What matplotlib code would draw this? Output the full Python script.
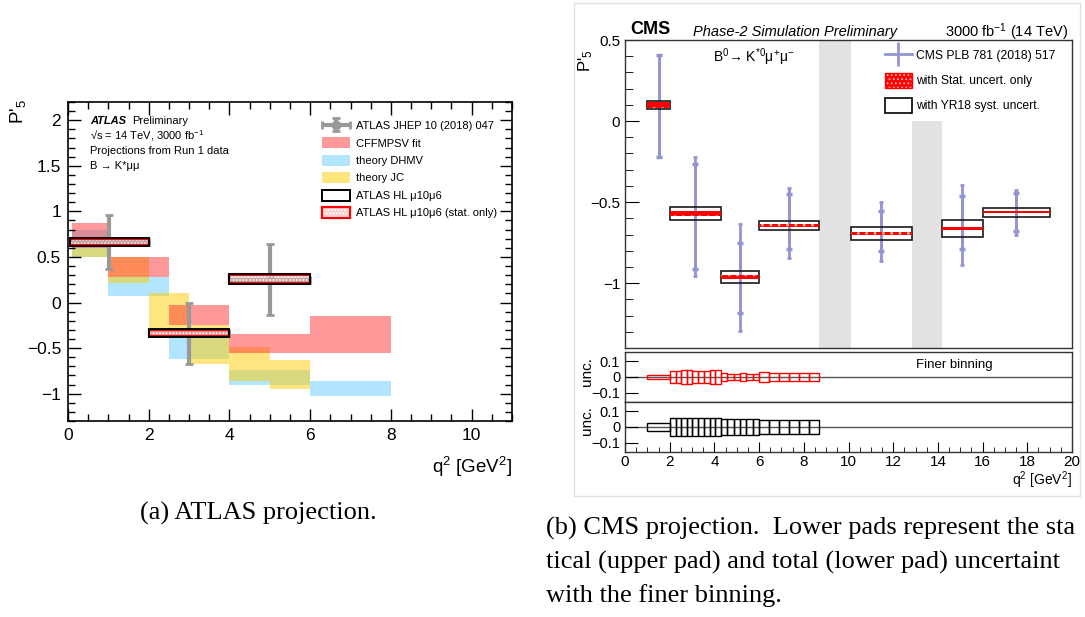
import numpy as np
import matplotlib
matplotlib.use("Agg")
import matplotlib.pyplot as plt
from matplotlib.patches import Patch, Rectangle
from matplotlib.lines import Line2D
from matplotlib.container import ErrorbarContainer
from matplotlib.legend_handler import HandlerTuple, HandlerErrorbar
from matplotlib.ticker import MultipleLocator

plt.rcParams['font.family'] = ['Liberation Sans', 'DejaVu Sans']
plt.rcParams['mathtext.fontset'] = 'custom'
plt.rcParams['mathtext.rm'] = 'Liberation Sans'
plt.rcParams['mathtext.it'] = 'Liberation Sans:italic'
plt.rcParams['mathtext.bf'] = 'Liberation Sans:bold'
plt.rcParams['mathtext.default'] = 'regular'
plt.rcParams['hatch.linewidth'] = 0.8

# ---------------- ATLAS panel data ----------------
# theory bands: bin edges and lower/upper P'5 values
cff_lo = [0.1, 1.0, 2.5, 4.0, 6.0]
cff_hi = [1.0, 2.5, 4.0, 6.0, 8.0]
cff_ylo = [0.60, 0.28, -0.25, -0.55, -0.55]
cff_yhi = [0.87, 0.50, -0.03, -0.35, -0.15]

dhmv_lo = [0.1, 1.0, 2.5, 4.0, 6.0]
dhmv_hi = [1.0, 2.5, 4.0, 6.0, 8.0]
dhmv_ylo = [0.50, 0.07, -0.62, -0.90, -1.03]
dhmv_yhi = [0.80, 0.28, -0.36, -0.745, -0.865]

jc_lo = [0.1, 1.0, 2.0, 3.0, 4.0, 5.0]
jc_hi = [1.0, 2.0, 3.0, 4.0, 5.0, 6.0]
jc_ylo = [0.50, 0.21, -0.38, -0.68, -0.865, -0.95]
jc_yhi = [0.60, 0.50, 0.10, -0.25, -0.49, -0.63]

# Run 1 measurement
run1_x = [1.02, 3.0, 5.0]
run1_xerr = [0.98, 1.0, 1.0]
run1_y = [0.66, -0.33, 0.25]
run1_up = [0.305, 0.33, 0.39]
run1_dn = [0.295, 0.34, 0.39]

# HL projection
hl_lo = [0.04, 2.0, 4.0]
hl_hi = [2.0, 4.0, 6.0]
hl_val = [0.66, -0.335, 0.255]
hl_tot = [0.045, 0.045, 0.055]
hl_stat = [0.033, 0.033, 0.043]

atlas_yticks = [-1, -0.5, 0, 0.5, 1, 1.5, 2]
atlas_ylabels = ['\u22121', '\u22120.5', '0', '0.5', '1', '1.5', '2']

# ---------------- CMS panel data ----------------
cms_lo = [1.0, 2.0, 4.3, 6.0, 10.09, 14.18, 16.0]
cms_hi = [2.0, 4.3, 6.0, 8.68, 12.86, 16.0, 19.0]
cms_val = [0.10, -0.572, -0.963, -0.644, -0.693, -0.663, -0.562]
cms_tot = [0.025, 0.039, 0.039, 0.028, 0.038, 0.050, 0.028]
cms_stat = [0.018, 0.015, 0.013, 0.010, 0.008, 0.009, 0.008]

# CMS PLB 781 (2018) 517 points
plb_up = [0.307, 0.352, 0.325, 0.228, 0.193, 0.268, 0.134]
plb_dn = [0.322, 0.385, 0.333, 0.200, 0.171, 0.222, 0.142]
plb_stat_up = [0.307, 0.309, 0.208, 0.194, 0.137, 0.200, 0.120]
plb_stat_dn = [0.322, 0.340, 0.220, 0.148, 0.109, 0.129, 0.117]

veto_lo = [8.68, 12.86]
veto_hi = [10.09, 14.18]
veto_top = [0.5, 0.0]

cms_yticks = [-1, -0.5, 0, 0.5]
cms_ylabels = ['\u22121', '\u22120.5', '0', '0.5']
unc_yticks = [-0.1, 0, 0.1]
unc_ylabels = ['\u22120.1', '0', '0.1']

# finer binning uncertainties
fine_edges = [1.0, 2.0, 2.26, 2.51, 2.77, 3.02, 3.28, 3.53, 3.79, 4.04, 4.3,
              4.58, 4.87, 5.15, 5.43, 5.72, 6.0, 6.45, 6.89, 7.34, 7.79, 8.23, 8.68]
fine_stat = [0.013, 0.040, 0.041, 0.043, 0.045, 0.041, 0.038, 0.038, 0.043, 0.043,
             0.024, 0.022, 0.022, 0.024, 0.018, 0.022,
             0.030, 0.026, 0.026, 0.027, 0.026, 0.026]
fine_tot = [0.023, 0.058, 0.058, 0.058, 0.058, 0.058, 0.058, 0.058, 0.058, 0.058,
            0.052, 0.052, 0.052, 0.052, 0.052, 0.052,
            0.042, 0.042, 0.042, 0.042, 0.042, 0.042]

# caption lines as far as they are visible in the page
caption_a = "(a) ATLAS projection."
caption_b = ["(b) CMS projection.  Lower pads represent the sta",
             "tical (upper pad) and total (lower pad) uncertaint",
             "with the finer binning."]

W, H = 1085, 617
fig = plt.figure(figsize=(W / 100, H / 100), dpi=100)


def frac(l, t, r, b):
    return [l / W, 1 - b / H, (r - l) / W, (b - t) / H]


pink = (1.0, 0.2, 0.2)
blue_t = (0.4, 0.8, 1.0)
yell = (1.0, 0.8, 0.0)
grey = '#999999'

# ================= ATLAS =================
ax = fig.add_axes(frac(68, 102, 512, 421))
ax.bar(dhmv_lo, np.subtract(dhmv_yhi, dhmv_ylo), width=np.subtract(dhmv_hi, dhmv_lo),
       bottom=dhmv_ylo, align='edge', color=blue_t, alpha=0.5, lw=0, zorder=1)
ax.bar(jc_lo, np.subtract(jc_yhi, jc_ylo), width=np.subtract(jc_hi, jc_lo),
       bottom=jc_ylo, align='edge', color=yell, alpha=0.5, lw=0, zorder=1)
ax.bar(cff_lo, np.subtract(cff_yhi, cff_ylo), width=np.subtract(cff_hi, cff_lo),
       bottom=cff_ylo, align='edge', color=pink, alpha=0.5, lw=0, zorder=1)

eb = ax.errorbar(run1_x, run1_y, yerr=[run1_dn, run1_up], xerr=run1_xerr, fmt='o',
                 color=grey, ms=6, elinewidth=3, capsize=3, capthick=2, zorder=2)

hl_w = np.subtract(hl_hi, hl_lo)
hl_stat_lo = np.subtract(hl_val, hl_stat)
hl_tot_lo = np.subtract(hl_val, hl_tot)
ax.bar(hl_lo, np.multiply(hl_stat, 2), width=hl_w, bottom=hl_stat_lo, align='edge',
       facecolor=(0.9, 0.7, 0.7, 0.55), edgecolor='white', hatch='.....', lw=0, zorder=3)
ax.bar(hl_lo, np.multiply(hl_stat, 2), width=hl_w, bottom=hl_stat_lo, align='edge',
       fill=False, edgecolor='red', lw=1.6, zorder=4)
ax.bar(hl_lo, np.multiply(hl_tot, 2), width=hl_w, bottom=hl_tot_lo, align='edge',
       fill=False, edgecolor='black', lw=1.4, zorder=5)

ax.set_xlim(0, 11)
ax.set_ylim(-1.3, 2.2)
ax.set_xticks(np.arange(0, 11, 2))
ax.xaxis.set_minor_locator(MultipleLocator(0.5))
ax.set_yticks(atlas_yticks)
ax.set_yticklabels(atlas_ylabels)
ax.yaxis.set_minor_locator(MultipleLocator(0.1))
ax.tick_params(which='both', direction='in', top=True, right=True, labelsize=12.5, pad=5)
ax.tick_params(which='major', length=9, width=1)
ax.tick_params(which='minor', length=5, width=1)
for s in ax.spines.values():
    s.set_linewidth(1.2)

fig.text(18 / W, 1 - 99 / H, "P'$_5$", rotation=90, ha='center', va='top', fontsize=13.5)
fig.text(512 / W, 1 - 467 / H, "q$^2$ [GeV$^2$]", ha='right', va='center', fontsize=13.5)

fig.text(90 / W, 1 - 121 / H, "ATLAS", fontsize=8, fontweight='bold', fontstyle='italic', va='center')
fig.text(132 / W, 1 - 121 / H, "Preliminary", fontsize=8, va='center')
fig.text(90 / W, 1 - 136 / H, "\u221as = 14 TeV, 3000 fb$^{-1}$", fontsize=8, va='center')
fig.text(90 / W, 1 - 151 / H, "Projections from Run 1 data", fontsize=8, va='center')
fig.text(90 / W, 1 - 166 / H, "B \u2192 K*\u03bc\u03bc", fontsize=8, va='center')

h_cff = Patch(facecolor=pink, alpha=0.5, lw=0)
h_dhmv = Patch(facecolor=blue_t, alpha=0.5, lw=0)
h_jc = Patch(facecolor=yell, alpha=0.5, lw=0)
h_hl = Patch(facecolor='white', edgecolor='black', lw=1.4)
h_st = (Patch(facecolor=(0.97, 0.82, 0.82), edgecolor='white', hatch='.....', lw=0),
        Patch(fill=False, edgecolor='red', lw=1.6))
ax.legend([eb, h_cff, h_dhmv, h_jc, h_hl, h_st],
          ['ATLAS JHEP 10 (2018) 047', 'CFFMPSV fit', 'theory DHMV', 'theory JC',
           'ATLAS HL \u03bc10\u03bc6', 'ATLAS HL \u03bc10\u03bc6 (stat. only)'],
          handler_map={tuple: HandlerTuple(ndivide=1, pad=0),
                       ErrorbarContainer: HandlerErrorbar(xerr_size=1.25, yerr_size=0.6)},
          loc='upper left', bbox_to_anchor=(322 / W, 1 - 120 / H), bbox_transform=fig.transFigure,
          frameon=False, fontsize=8, handlelength=2.5, handleheight=1.15, labelspacing=0.55,
          handletextpad=0.6, borderpad=0, borderaxespad=0)

# ================= CMS =================
blue = '#9494d0'
cx = fig.add_axes(frac(625, 40, 1072, 348))
cx.set_xlim(0, 20)
cx.set_ylim(-1.4, 0.5)
cx.bar(veto_lo, np.subtract(veto_top, -1.4), width=np.subtract(veto_hi, veto_lo), bottom=-1.4,
       align='edge', color='#e2e2e2', lw=0, zorder=0)

cms_x = np.add(cms_lo, cms_hi) / 2
cx.errorbar(cms_x, cms_val, yerr=[plb_dn, plb_up], fmt='none', ecolor=blue, elinewidth=2,
            capsize=1.5, capthick=2, zorder=2)
cx.errorbar(cms_x, cms_val, yerr=[plb_stat_dn, plb_stat_up], fmt='none', ecolor=blue,
            elinewidth=2, capsize=2.5, capthick=2.5, zorder=2)

cms_w = np.subtract(cms_hi, cms_lo)
cx.bar(cms_lo, np.multiply(cms_tot, 2), width=cms_w, bottom=np.subtract(cms_val, cms_tot),
       align='edge', fill=False, edgecolor='#1a1a1a', lw=1.2, zorder=3)
cx.bar(cms_lo, np.multiply(cms_stat, 2), width=cms_w, bottom=np.subtract(cms_val, cms_stat),
       align='edge', facecolor='red', edgecolor='#ffb0b0', hatch='..', lw=0, zorder=4)

cx.set_yticks(cms_yticks)
cx.set_yticklabels(cms_ylabels)
cx.yaxis.set_minor_locator(MultipleLocator(0.1))
cx.tick_params(axis='y', which='both', direction='in', left=True, right=False, labelsize=11)
cx.tick_params(axis='y', which='major', length=10)
cx.tick_params(axis='y', which='minor', length=6)
cx.tick_params(axis='x', which='both', bottom=False, labelbottom=False)
for s in cx.spines.values():
    s.set_linewidth(1)
    s.set_color('#333333')

h_plb = Line2D([], [], color=blue, lw=2, marker='|', markersize=17, mew=2)
h_cst = (Patch(facecolor='red', edgecolor='#ffc0c0', hatch='....', lw=0),
         Patch(fill=False, edgecolor='red', lw=1))
h_csy = Patch(facecolor='white', edgecolor='black', lw=1.2)
cx.legend([h_plb, h_cst, h_csy],
          ['CMS PLB 781 (2018) 517', 'with Stat. uncert. only', 'with YR18 syst. uncert.'],
          handler_map={tuple: HandlerTuple(ndivide=1, pad=0)},
          loc='upper left', bbox_to_anchor=(885 / W, 1 - 48 / H), bbox_transform=fig.transFigure,
          frameon=False, fontsize=8.7, handlelength=2.2, handleheight=1.5, labelspacing=0.85,
          handletextpad=0.35, borderpad=0, borderaxespad=0)

fig.text(630 / W, 1 - 30 / H, "CMS", fontsize=13, fontweight='bold', va='center')
fig.text(693 / W, 1 - 32 / H, "Phase-2 Simulation Preliminary", fontsize=10.5,
         fontstyle='italic', va='center')
fig.text(1068 / W, 1 - 32 / H, "3000 fb$^{-1}$ (14 TeV)", fontsize=10.5, ha='right', va='center')
cx.text(713 / W, 1 - 57 / H, "B$^0$\u2192 K$^{*0}$\u03bc$^{+}$\u03bc$^{-}$", fontsize=10,
        va='center', transform=fig.transFigure)
fig.text(586 / W, 1 - 50 / H, "P'$_5$", rotation=90, ha='center', va='top', fontsize=12)

fine_lo = fine_edges[:-1]
fine_w = np.diff(fine_edges)
pads = [(352, 402, fine_stat, 'red', 372), (402, 452, fine_tot, 'black', 421)]
for top, bot, unc, col, ylab in pads:
    px = fig.add_axes(frac(625, top, 1072, bot))
    px.set_xlim(0, 20)
    px.set_ylim(-0.16, 0.16)
    px.axhline(0, color='#555555', lw=1, zorder=1)
    px.bar(fine_lo, np.multiply(unc, 2), width=fine_w, bottom=np.negative(unc), align='edge',
           fill=False, edgecolor=col, lw=1, zorder=2)
    px.set_yticks(unc_yticks)
    px.set_yticklabels(unc_ylabels)
    px.tick_params(axis='y', direction='in', length=9, labelsize=10.5)
    for s in px.spines.values():
        s.set_linewidth(1)
        s.set_color('#333333')
    fig.text(587 / W, 1 - ylab / H, "unc.", rotation=90, ha='center', va='center', fontsize=11)
    if col == 'red':
        px.tick_params(axis='x', which='both', bottom=False, labelbottom=False)
        px.text(916 / W, 1 - 365 / H, "Finer binning", fontsize=9.5, va='center',
                transform=fig.transFigure)
    else:
        px.set_xticks(np.arange(0, 21, 2))
        px.xaxis.set_minor_locator(MultipleLocator(0.5))
        px.tick_params(axis='x', which='both', direction='in', labelsize=11, pad=2)
        px.tick_params(axis='x', which='major', length=7)
        px.tick_params(axis='x', which='minor', length=3.5)

fig.text(1072 / W, 1 - 480 / H, "q$^2$ [GeV$^2$]", ha='right', va='center', fontsize=10)

fig.add_artist(Rectangle((574 / W, 1 - 496 / H), (1080 - 574) / W, (496 - 3) / H,
                         transform=fig.transFigure, fill=False, edgecolor='#e6dce2', lw=1))

# captions
serif = ['Liberation Serif', 'DejaVu Serif']
fig.text(140 / W, 1 - 520 / H, caption_a, family=serif, fontsize=19, va='baseline')
for line, base in zip(caption_b, [535, 569, 602]):
    fig.text(546 / W, 1 - base / H, line, family=serif, fontsize=19, va='baseline')

fig.savefig("out.png", dpi=100)
